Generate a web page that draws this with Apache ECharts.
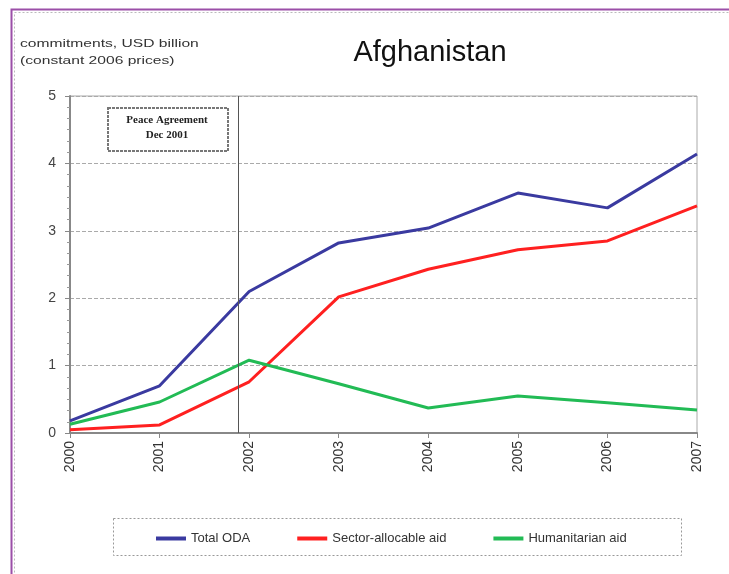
<!DOCTYPE html>
<html><head><meta charset="utf-8">
<script src="https://cdn.jsdelivr.net/npm/echarts@6/dist/echarts.min.js"></script>
<style>html,body{margin:0;padding:0;background:#fff}#c{width:729px;height:574px}</style>
</head><body><div id="c"></div>
<script>
const years = [2000, 2001, 2002, 2003, 2004, 2005, 2006, 2007];
const totalODA = [0.18, 0.70, 2.10, 2.82, 3.04, 3.56, 3.34, 4.14];
const sectorAid = [0.05, 0.12, 0.76, 2.02, 2.43, 2.72, 2.85, 3.37];
const humanitarianAid = [0.13, 0.46, 1.08, 0.73, 0.37, 0.55, 0.45, 0.34];
const peaceAgreement = 2001.88;
const seriesNames = ['Total ODA', 'Sector-allocable aid', 'Humanitarian aid'];

const pair = arr => years.map((y, i) => [y, arr[i]]);
const chart = echarts.init(document.getElementById('c'));
const font = 'Arial, "Liberation Sans", sans-serif';
chart.setOption({
  animation: false,
  backgroundColor: '#fff',
  title: {
    text: 'Afghanistan', left: 425, top: 33, textAlign: 'center',
    textStyle: { fontFamily: font, fontSize: 29, fontWeight: 'normal', color: '#111' }
  },
  grid: { left: 70, right: 32, top: 96, bottom: 141, show: true, borderColor: '#aaa', borderWidth: 1 },
  xAxis: {
    type: 'value', min: 2000, max: 2007, interval: 1,
    axisLine: { lineStyle: { color: '#888', width: 2 } },
    axisTick: { show: true, length: 5, lineStyle: { color: '#888' } },
    splitLine: { show: false },
    axisLabel: { rotate: 90, fontFamily: font, fontSize: 14, color: '#333', margin: 8, formatter: v => String(v) }
  },
  yAxis: {
    type: 'value', min: 0, max: 5, interval: 1,
    axisLine: { show: true, lineStyle: { color: '#888', width: 2 } },
    axisTick: { show: true, length: 5, lineStyle: { color: '#888' } },
    minorTick: { show: true, splitNumber: 6, length: 3, lineStyle: { color: '#999' } },
    splitLine: { lineStyle: { color: '#aaa', type: 'dashed', width: 1 } },
    axisLabel: { fontFamily: font, fontSize: 14, color: '#444', margin: 14 }
  },
  legend: {
    data: seriesNames.map(n => ({ name: n, icon: 'rect' })), left: 151, top: 527, itemWidth: 30, itemHeight: 4, itemGap: 47,
    textStyle: { fontFamily: font, fontSize: 13, color: '#333' }
  },
  graphic: [
    { type: 'rect', left: 9, top: 7, shape: { width: 740, height: 600 }, style: { fill: 'none', stroke: '#9b4fa8', lineWidth: 2 }, silent: true },
    { type: 'rect', left: 12, top: 10, shape: { width: 740, height: 600 }, style: { fill: 'none', stroke: '#bbb', lineWidth: 1, lineDash: [2, 2] }, silent: true },
    { type: 'text', left: 20, top: 35, style: { text: 'commitments, USD billion\n(constant 2006 prices)', fontFamily: font, fontSize: 11, lineHeight: 17, fill: '#333' }, scaleX: 1.42, silent: true },
    { type: 'rect', left: 107, top: 107, shape: { width: 120, height: 43 }, style: { fill: '#fff', stroke: '#777', lineWidth: 2, lineDash: [3, 1] }, silent: true },
    { type: 'text', x: 167, y: 113, style: { text: 'Peace Agreement\nDec 2001', align: 'center', fontFamily: '"Liberation Serif", "DejaVu Serif", serif', fontSize: 11, fontWeight: 'bold', lineHeight: 15, fill: '#222' }, silent: true },
    { type: 'rect', left: 111, top: 516, shape: { width: 568, height: 37 }, style: { fill: 'none', stroke: '#999', lineWidth: 1, lineDash: [2, 2] }, silent: true }
  ],
  series: [
    { name: seriesNames[0], type: 'line', data: pair(totalODA), showSymbol: false, lineStyle: { color: '#3a3aa0', width: 3 }, itemStyle: { color: '#3a3aa0' },
      markLine: { silent: true, symbol: 'none', label: { show: false }, lineStyle: { color: '#555', type: 'solid', width: 1 }, data: [{ xAxis: peaceAgreement }] } },
    { name: seriesNames[1], type: 'line', data: pair(sectorAid), showSymbol: false, lineStyle: { color: '#ff2020', width: 3 }, itemStyle: { color: '#ff2020' } },
    { name: seriesNames[2], type: 'line', data: pair(humanitarianAid), showSymbol: false, lineStyle: { color: '#22bb55', width: 3 }, itemStyle: { color: '#22bb55' } }
  ]
});
</script></body></html>
